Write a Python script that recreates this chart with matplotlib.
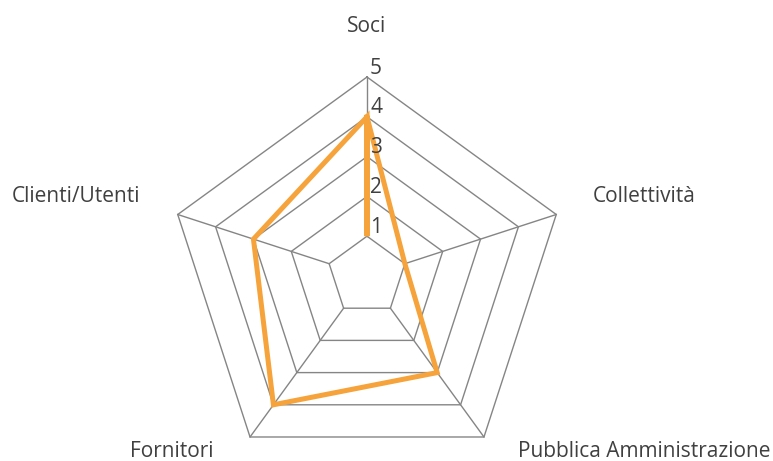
import numpy as np
import matplotlib
matplotlib.use("Agg")
import matplotlib.pyplot as plt

plt.rcParams['font.family'] = ['Open Sans', 'DejaVu Sans']

categories = ["Soci", "Collettività", "Pubblica Amministrazione", "Fornitori", "Clienti/Utenti"]
values = [4, 1, 3, 4, 3]
rings = [1, 2, 3, 4, 5]
tick_labels = ["1", "2", "3", "4", "5"]

W, H = 773, 461
fig = plt.figure(figsize=(W / 100, H / 100), dpi=100)
ax = fig.add_axes([0, 0, 1, 1])
unit = 39.8  # pixels per data unit
cx, cy = 367, 276  # center in pixels from top-left
ax.set_xlim(-cx / unit, (W - cx) / unit)
ax.set_ylim(-(H - cy) / unit, cy / unit)
ax.set_aspect('equal')
ax.axis('off')

n = len(categories)
ang = np.pi / 2 - 2 * np.pi * np.arange(n) / n
ux, uy = np.cos(ang), np.sin(ang)

grid_color = '#858585'
rmax = rings[-1]
rmin = rings[0]
for r in rings:
    xs = np.append(r * ux, r * ux[0])
    ys = np.append(r * uy, r * uy[0])
    ax.plot(xs, ys, color=grid_color, lw=1.0, zorder=1)
for i in range(n):
    ax.plot([rmin * ux[i], rmax * ux[i]], [rmin * uy[i], rmax * uy[i]],
            color=grid_color, lw=1.0, zorder=1)

v = np.array(values, dtype=float)
xs = np.append(v * ux, v * ux[0])
ys = np.append(v * uy, v * uy[0])
ax.plot(xs, ys, color='#F5A33A', lw=3.6, solid_joinstyle='miter', zorder=3)

text_color = '#404040'
fs = 15
for r, t in zip(rings, tick_labels):
    ax.annotate(t, (0, r), xytext=(3, 9), textcoords='offset pixels',
                ha='left', va='center', fontsize=fs, color=text_color, zorder=4)

offsets = [
    ((0, 250 - 199), 'center'),
    ((36, 18), 'left'),
    ((34, -15), 'left'),
    ((-37, -15), 'right'),
    ((-37, 18), 'right'),
]
for i, (lab, (off, ha)) in enumerate(zip(categories, offsets)):
    ax.annotate(lab, (rmax * ux[i], rmax * uy[i]), xytext=off,
                textcoords='offset pixels', ha=ha, va='center',
                fontsize=fs, color=text_color)

fig.savefig("out.png", dpi=100)
